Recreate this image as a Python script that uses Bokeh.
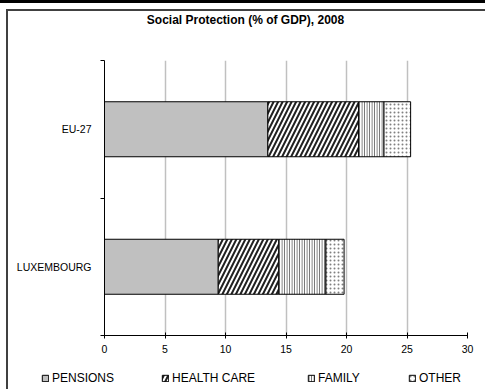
from bokeh.plotting import figure
from bokeh.layouts import column
from bokeh.models import (ColumnDataSource, FixedTicker, Legend, LegendItem, Label, Range1d)
from bokeh.embed import file_html
from bokeh.resources import INLINE

# ---- data ----
countries = ["EU-27", "LUXEMBOURG"]
pensions = [13.5, 9.4]
health_care = [7.5, 5.0]
family = [2.1, 3.9]
other = [2.2, 1.5]
x_ticks = [0, 5, 10, 15, 20, 25, 30]
series_names = ["PENSIONS", "HEALTH CARE", "FAMILY", "OTHER"]
title_text = "Social Protection (% of GDP), 2008"

n = len(countries)
ypos = [n - i - 0.5 for i in range(n)]  # first category on top

FONT = "Liberation Sans"
W, H_TITLE, H_MAIN, H_LEG = 485, 30, 335, 24


def strip(height):
    f = figure(width=W, height=height, output_backend="svg", toolbar_location=None,
               x_axis_type=None, y_axis_type=None, x_range=Range1d(0, 1),
               y_range=Range1d(10, 11), min_border=0)
    f.outline_line_color = None
    f.background_fill_alpha = 0
    f.border_fill_alpha = 0
    f.xgrid.grid_line_color = None
    f.ygrid.grid_line_color = None
    f.frame_align = False
    return f


# ---- title strip ----
tf = strip(H_TITLE)
tf.add_layout(Label(x=245, y=H_TITLE - 19, x_units="screen", y_units="screen",
                    text=title_text, text_align="center", text_baseline="middle",
                    text_font=FONT, text_font_size="12px", text_font_style="bold",
                    text_color="black"))

# ---- main chart ----
p = figure(width=W, height=H_MAIN, output_backend="svg", toolbar_location=None,
           x_range=Range1d(0, 30), y_range=Range1d(0, n),
           min_border_left=104, min_border_right=18, min_border_top=30, min_border_bottom=30)
p.outline_line_color = None
p.background_fill_color = "white"
p.border_fill_alpha = 0
p.frame_align = False

series = [pensions, health_care, family, other]
styles = [
    dict(fill_color="#c0c0c0"),
    dict(fill_color="white", hatch_pattern="right_diagonal_line", hatch_color="#202020",
         hatch_scale=9, hatch_weight=2),
    dict(fill_color="white", hatch_pattern="vertical_line", hatch_color="#6a6a6a",
         hatch_scale=2.5, hatch_weight=1.2),
    dict(fill_color="white", hatch_pattern="dot", hatch_color="#808080",
         hatch_scale=4, hatch_weight=1),
]

sources = []
left = [0.0] * n
for vals, st in zip(series, styles):
    right = [l + v for l, v in zip(left, vals)]
    src = ColumnDataSource(dict(y=ypos, left=left, right=right))
    sources.append(src)
    p.hbar(y="y", left="left", right="right", height=0.4, source=src,
           line_color="black", line_width=1, **st)
    left = right

# x axis
p.xaxis.ticker = FixedTicker(ticks=x_ticks)
p.xaxis.major_tick_in = 3
p.xaxis.major_tick_out = 3
p.xaxis.minor_tick_line_color = None
p.xaxis.axis_line_color = "black"
p.xaxis.major_tick_line_color = "black"
p.xaxis.major_label_text_font = FONT
p.xaxis.major_label_text_font_size = "10.5px"
p.xaxis.major_label_text_color = "black"
p.xaxis.major_label_standoff = 6

# y axis: labels at bar centres, ticks at category boundaries
p.yaxis.ticker = FixedTicker(ticks=ypos, minor_ticks=list(range(n + 1)))
p.yaxis.major_label_overrides = {y: c for y, c in zip(ypos, countries)}
p.yaxis.major_tick_line_color = None
p.yaxis.major_tick_in = 0
p.yaxis.major_tick_out = 0
p.yaxis.minor_tick_line_color = "black"
p.yaxis.minor_tick_in = 0
p.yaxis.minor_tick_out = 4
p.yaxis.axis_line_color = "black"
p.yaxis.major_label_text_font = FONT
p.yaxis.major_label_text_font_size = "10.5px"
p.yaxis.major_label_text_color = "black"
p.yaxis.major_label_standoff = 9

p.xgrid.ticker = FixedTicker(ticks=x_ticks[1:-1])
p.xgrid.grid_line_color = "#c0c0c0"
p.xgrid.grid_line_width = 1.5
p.ygrid.grid_line_color = None

# ---- legend strip (separate figure so the legend may span the full width) ----
lg = strip(H_LEG)
leg_x = [41, 161, 307, 408]
for nm, src, st, lx in zip(series_names, sources, styles, leg_x):
    r = lg.hbar(y="y", left="left", right="right", height=0.4, source=src,
                line_color="black", line_width=1, **st)
    leg = Legend(items=[LegendItem(label=nm, renderers=[r])],
                 orientation="horizontal", location=(lx, 4),
                 glyph_width=8, glyph_height=8, label_standoff=3, padding=0, margin=0,
                 label_text_font=FONT, label_text_font_size="12px", label_text_color="black",
                 background_fill_alpha=0, border_line_color=None, label_height=12,
                 click_policy="none")
    lg.add_layout(leg, "center")

bg = ("linear-gradient(#000,#000) 0 0 / 100% 3px no-repeat, "
      "linear-gradient(#404040,#404040) 6px 9px / 100% 2px no-repeat, "
      "linear-gradient(#404040,#404040) 6px 9px / 2px 100% no-repeat, white")
layout = column(tf, p, lg, spacing=0, styles={"background": bg})

open("out.html", "w").write(file_html(layout, INLINE))
